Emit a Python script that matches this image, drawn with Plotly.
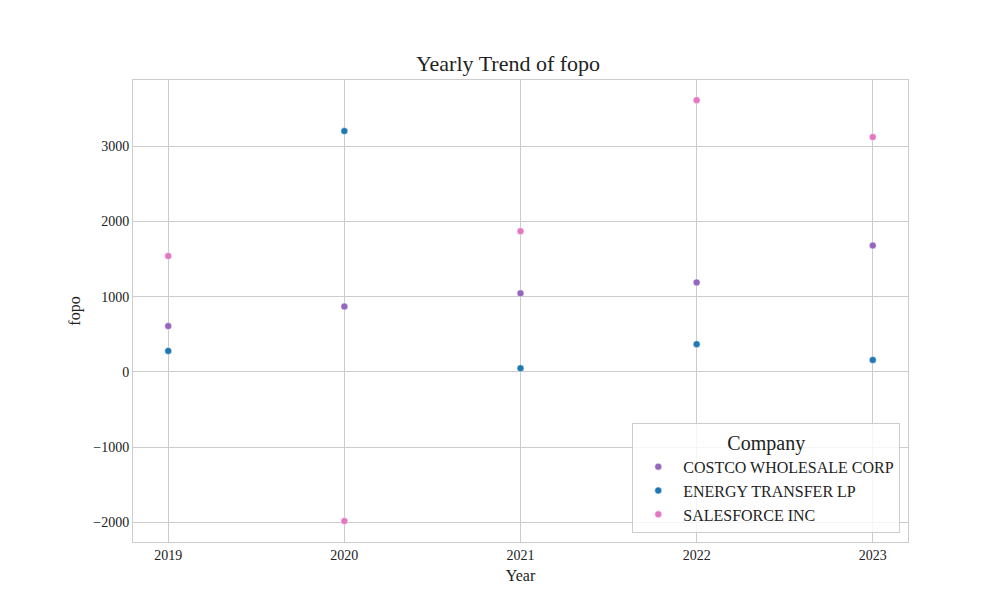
import plotly.graph_objects as go

years = [2019, 2020, 2021, 2022, 2023]
costco = [610, 870, 1045, 1190, 1680]
energy = [280, 3200, 50, 370, 160]
salesforce = [1540, -1980, 1870, 3610, 3120]

series = [("COSTCO WHOLESALE CORP", costco, "#9467bd"),
          ("ENERGY TRANSFER LP", energy, "#1f77b4"),
          ("SALESFORCE INC", salesforce, "#e377c2")]

fig = go.Figure()
for name, vals, col in series:
    fig.add_trace(go.Scatter(x=years, y=vals, mode="markers", name=name,
                             marker=dict(color=col, size=7,
                                         line=dict(color="white", width=0.5))))

axis_style = dict(showgrid=True, gridcolor="#cccccc", showline=True, mirror=True,
                  linecolor="#cccccc", linewidth=1, zeroline=False, ticks="",
                  tickfont=dict(size=14), automargin=False)
fig.update_layout(
    width=1000, height=600,
    plot_bgcolor="white", paper_bgcolor="white",
    font=dict(family="Liberation Serif, serif", color="#222222", size=15),
    title=dict(text="Yearly Trend of fopo", x=0.5, y=0.92, xanchor="center",
               font=dict(size=22)),
    margin=dict(l=125, r=100, t=72, b=66),
    showlegend=True,
    legend=dict(title=dict(text="Company", side="top center", font=dict(size=20)),
                x=0.99, y=0.02, xanchor="right", yanchor="bottom",
                bordercolor="#cccccc", borderwidth=1, bgcolor="rgba(255,255,255,0.8)",
                font=dict(size=16), itemwidth=40),
)
fig.update_xaxes(title_text="Year", title_standoff=8, title_font=dict(size=16),
                 range=[2018.8, 2023.2], tickvals=years, **axis_style)
fig.update_yaxes(title_text="fopo", title_standoff=8, title_font=dict(size=16),
                 range=[-2258, 3878], tickvals=[-2000, -1000, 0, 1000, 2000, 3000],
                 tickformat="d", **axis_style)
fig.write_html("out.html")
